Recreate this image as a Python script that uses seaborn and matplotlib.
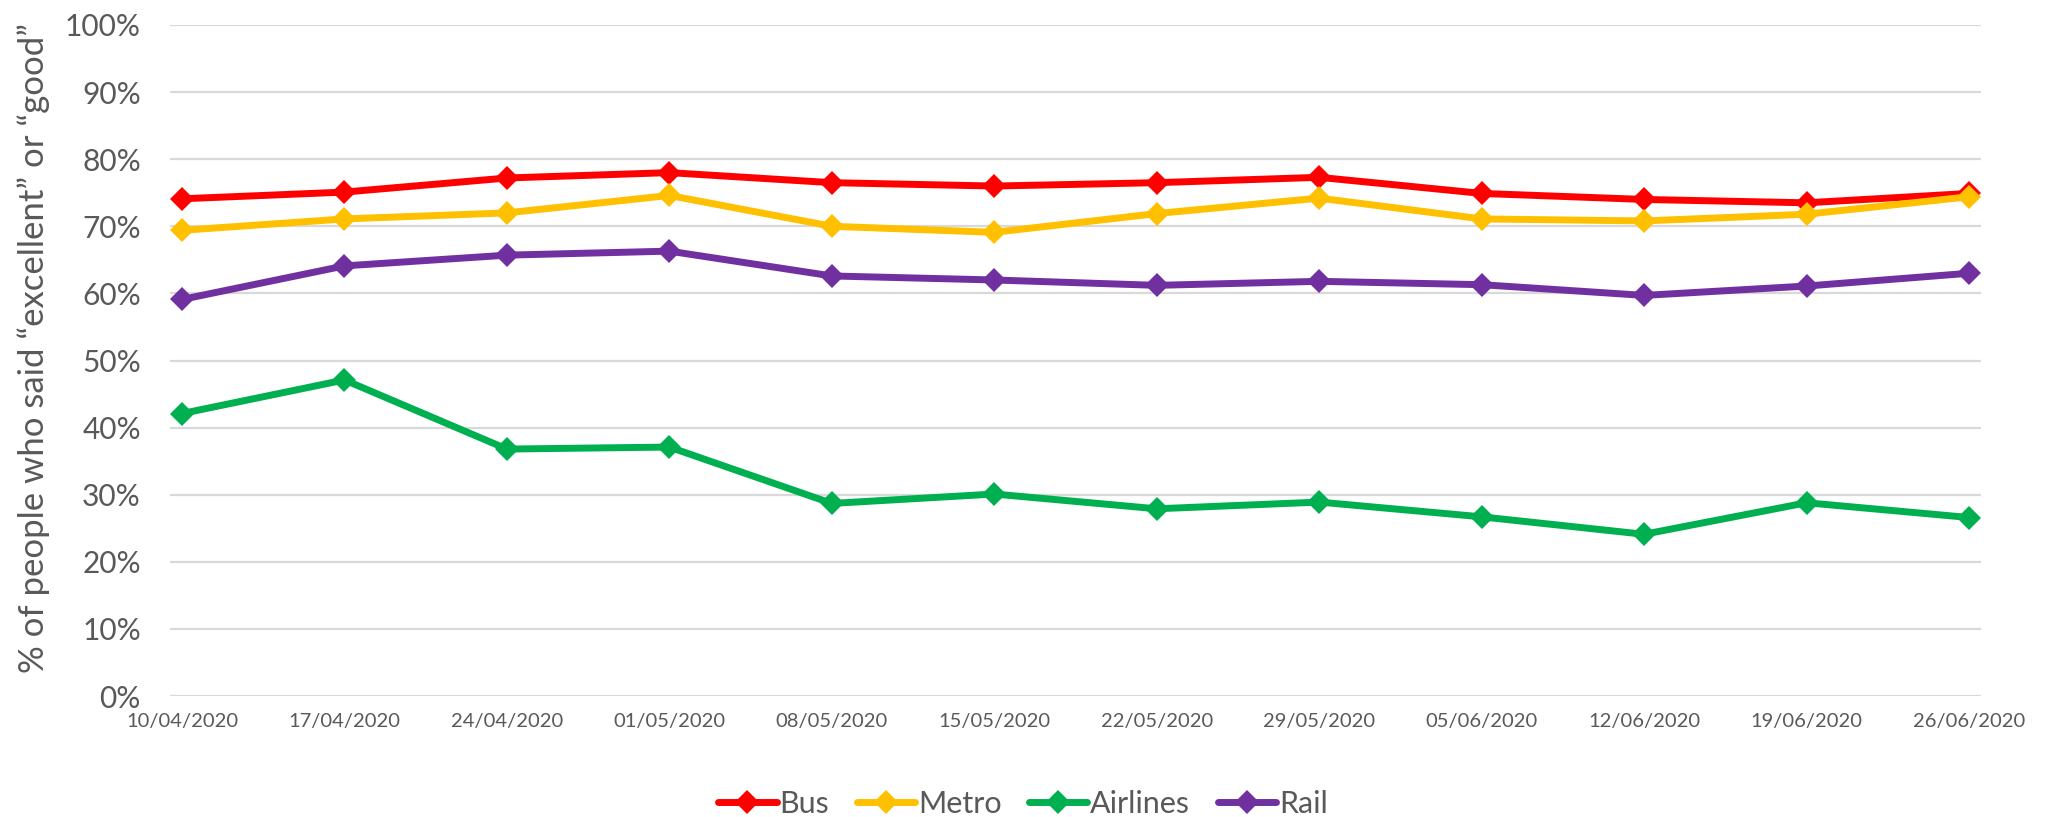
import pandas as pd
import numpy as np
import matplotlib.pyplot as plt
import seaborn as sns

##################################################################################
#   data (% who said "excellent" or "good")
##################################################################################
dates = ["10/04/2020", "17/04/2020", "24/04/2020", "01/05/2020", "08/05/2020", "15/05/2020",
         "22/05/2020", "29/05/2020", "05/06/2020", "12/06/2020", "19/06/2020", "26/06/2020"]

bus = [74.1, 75.1, 77.2, 78.0, 76.5, 76.0, 76.5, 77.3, 74.9, 74.0, 73.5, 74.9]
metro = [69.4, 71.1, 72.0, 74.6, 70.0, 69.1, 71.9, 74.2, 71.1, 70.8, 71.8, 74.4]
airlines = [42.1, 47.1, 36.8, 37.1, 28.7, 30.1, 27.9, 28.9, 26.7, 24.1, 28.8, 26.6]
rail = [59.1, 64.1, 65.7, 66.3, 62.6, 62.0, 61.2, 61.8, 61.3, 59.7, 61.1, 63.0]

modes = ["Bus", "Metro", "Airlines", "Rail"]
colours = ["#FF0000", "#FFC000", "#00B050", "#7030A0"]
yticks = [0, 10, 20, 30, 40, 50, 60, 70, 80, 90, 100]

##################################################################################
#   long format for seaborn
##################################################################################
series = {"Bus": bus, "Metro": metro, "Airlines": airlines, "Rail": rail}
rows = []
for mode in modes:
    for i, v in enumerate(series[mode]):
        rows.append({"pos": i, "Date": dates[i], "Mode": mode, "Value": v})
df = pd.DataFrame(rows)

sns.set_style("white")
plt.rcParams["font.family"] = ["Lato", "DejaVu Sans"]
txt = "#595959"

fig = plt.figure(figsize=(20.46, 8.17), dpi=100)
ax = fig.add_axes([170 / 2046, 1 - 696 / 817, (1981 - 170) / 2046, (696 - 25) / 817])

sns.lineplot(data=df, x="pos", y="Value", hue="Mode", hue_order=modes,
             palette=colours, marker="D", markersize=12.5, markeredgewidth=0,
             linewidth=5, legend=False, ax=ax)

ax.set_xlim(-0.074, 11.074)
ax.set_ylim(0, 100)
ax.set_xticks(range(len(dates)))
ax.set_xticklabels(dates)
ax.set_yticks(yticks)
ax.set_yticklabels([f"{t}%" for t in yticks])
ax.tick_params(axis="x", length=0, pad=12, labelsize=14.5, labelcolor=txt)
ax.tick_params(axis="y", length=0, pad=21, labelsize=21.5, labelcolor=txt)
ax.yaxis.grid(True, color="#D9D9D9", linewidth=1.6)
ax.set_axisbelow(True)
for s in ax.spines.values():
    s.set_visible(False)

ax.set_xlabel("")
ax.set_ylabel("% of people who said \u201cexcellent\u201d or \u201cgood\u201d",
              fontsize=25, color=txt)
ax.yaxis.set_label_coords(-0.066, 0.518)

lines = ax.get_lines()[:4]
fig.legend(handles=lines, labels=modes, loc="center", bbox_to_anchor=(0.5, 1 - 804 / 817),
           ncol=4, frameon=False, fontsize=22, labelcolor=txt, handlelength=1.9,
           handletextpad=0.1, columnspacing=0.9)

plt.savefig("out.png", dpi=100)
